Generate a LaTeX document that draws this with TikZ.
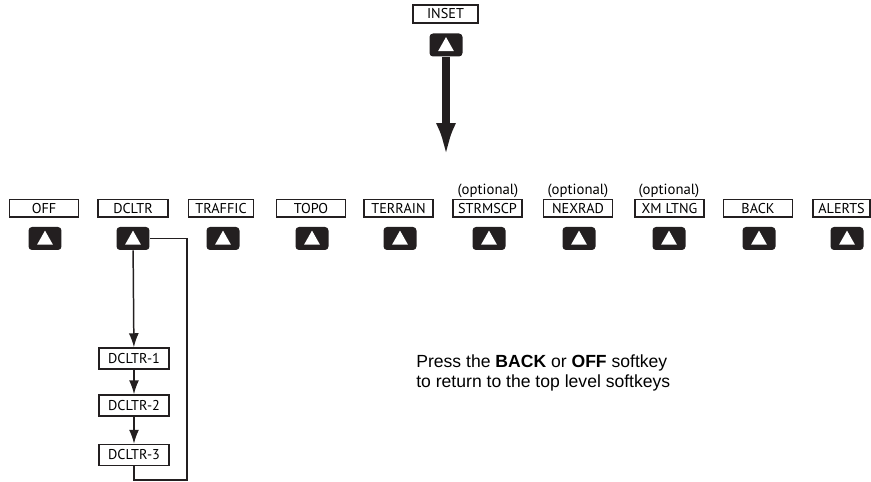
\documentclass[tikz,border=0pt]{standalone}
\usepackage{fontspec}
\setmainfont{Liberation Sans}
\newfontfamily\keyfont{PT Sans}
\usetikzlibrary{arrows.meta}
\definecolor{keyblack}{HTML}{231F20}

\begin{document}
\begin{tikzpicture}[x=0.02cm,y=-0.02cm]
\tikzset{skey/.style = {rectangle,draw=keyblack,line width=0.85pt,minimum width=1.38cm,minimum height=0.35cm,inner sep=0pt,font=\keyfont\fontsize{8.1}{9}\selectfont}}
\tikzset{btn/.style = {rectangle,rounded corners=2pt,fill=keyblack,minimum width=0.66cm,minimum height=0.46cm,inner sep=0pt,
  path picture={\fill[white,sharp corners] ([yshift=4.5pt]path picture bounding box.center) -- ([xshift=4.5pt,yshift=-3.5pt]path picture bounding box.center) -- ([xshift=-4.5pt,yshift=-3.5pt]path picture bounding box.center) -- cycle;}}}
\tikzset{opt/.style = {font=\keyfont\fontsize{8.4}{9}\selectfont}}
\tikzset{flow/.style = {line width=0.85pt,draw=keyblack}}
\useasboundingbox (0,0) rectangle (871,482);
% top softkey
\node[skey,minimum width=1.3cm,minimum height=0.36cm] (inset) at (445.5,14) {INSET};
\node[btn] (insetkey) at (446,45) {};
\coordinate (insettip) at (446,157);
% softkeys
\node[skey] (off) at (44,208.5) {OFF};
\node[btn] (offkey) at (45,238.5) {};
\node[skey,minimum width=1.4cm] (dcltr) at (133,208.5) {DCLTR};
\node[btn] (dcltrkey) at (133,238.5) {};
\node[skey,minimum width=1.3cm] (traffic) at (221,208.5) {TRAFFIC};
\node[btn] (traffickey) at (223,238.5) {};
\node[skey] (topo) at (311,208.5) {TOPO};
\node[btn] (topokey) at (312,238.5) {};
\node[skey] (terrain) at (398.5,208.5) {TERRAIN};
\node[btn] (terrainkey) at (400,238.5) {};
\node[opt] (opt1) at (488,191) {(optional)};
\node[skey] (strmscp) at (487.5,208.5) {STRMSCP};
\node[btn] (strmscpkey) at (489,238.5) {};
\node[opt] (opt2) at (578,191) {(optional)};
\node[skey] (nexrad) at (578,208.5) {NEXRAD};
\node[btn] (nexradkey) at (579,238.5) {};
\node[opt] (opt3) at (669,191) {(optional)};
\node[skey] (xmltng) at (669.5,208.5) {XM LTNG};
\node[btn] (xmltngkey) at (669,238.5) {};
\node[skey] (back) at (758,208.5) {BACK};
\node[btn] (backkey) at (759,238.5) {};
\node[skey,minimum width=1.14cm] (alerts) at (841.5,208.5) {ALERTS};
\node[btn] (alertskey) at (847,238.5) {};
% declutter levels
\node[skey,minimum width=1.4cm,minimum height=0.42cm] (d1) at (134,358.5) {DCLTR-1};
\node[skey,minimum width=1.4cm,minimum height=0.42cm] (d2) at (134,405.5) {DCLTR-2};
\node[skey,minimum width=1.4cm,minimum height=0.42cm] (d3) at (134,455) {DCLTR-3};
\coordinate (loop) at (187,480);
% note
\node[anchor=north west,align=left,inner sep=0pt,font=\fontsize{10}{11.5}\selectfont] (note) at (416,354)
  {Press the \textbf{BACK} or \textbf{OFF} softkey\\to return to the top level softkeys};
%edges
\draw[line width=4.5pt,draw=keyblack,-{Latex[length=0.68cm,width=0.4cm]}] (insetkey.south) -- (insettip);
\draw[flow,->,>={Latex[length=0.28cm,width=0.2cm]}] (dcltrkey) -- (d1);
\draw[flow,->,>={Latex[length=0.28cm,width=0.2cm]}] (d1) -- (d2);
\draw[flow,->,>={Latex[length=0.28cm,width=0.2cm]}] (d2) -- (d3);
\draw[flow] (d3.south) |- (loop) |- (dcltrkey.east);
\end{tikzpicture}
\end{document}
